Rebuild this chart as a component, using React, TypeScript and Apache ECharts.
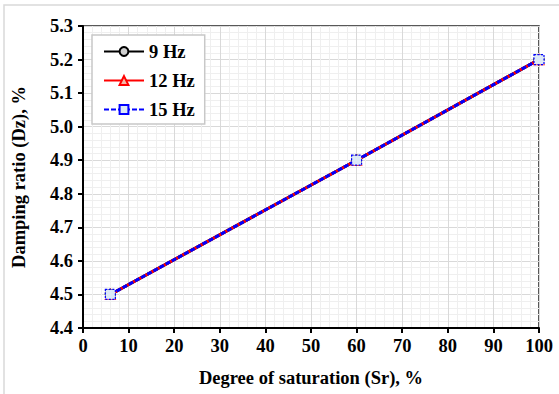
import React, { useEffect, useRef } from "react";
import * as echarts from "echarts";

const saturation = [6, 60, 100];
const damping9 = [4.5, 4.9, 5.2];
const damping12 = [4.5, 4.9, 5.2];
const damping15 = [4.5, 4.9, 5.2];
const seriesNames = ["9 Hz", "12 Hz", "15 Hz"];

const FONT = "'Liberation Serif', 'Times New Roman', serif";

export default function App() {
  const ref = useRef<HTMLDivElement>(null);
  useEffect(() => {
    if (!ref.current) return;
    const chart = echarts.init(ref.current, undefined, { renderer: "svg" });
    const pts = (ys: number[]) => saturation.map((x, i) => [x, ys[i]]);
    chart.setOption({
      animation: false,
      backgroundColor: "#ffffff",
      graphic: [
        {
          type: "rect",
          shape: { x: 4, y: 5, width: 570, height: 400 },
          style: { fill: "none", stroke: "#d9d9d9", lineWidth: 1.5 },
          z: -10,
        },
      ],
      grid: {
        left: 83,
        right: 20,
        top: 26,
        bottom: 66,
        show: true,
        borderColor: "#222",
        borderWidth: 1.5,
        backgroundColor: "transparent",
      },
      legend: {
        orient: "vertical",
        left: 92,
        top: 35,
        padding: [7, 10, 5, 11],
        itemWidth: 40,
        itemHeight: 11,
        itemGap: 10,
        backgroundColor: "#fff",
        borderColor: "#c8c8c8",
        borderWidth: 1.5,
        borderRadius: 0,
        textStyle: { fontFamily: FONT, fontWeight: "bold", fontSize: 18.5, color: "#000" },
        data: seriesNames,
      },
      xAxis: {
        type: "value",
        min: 0,
        max: 100,
        interval: 10,
        name: "Degree of saturation (Sr), %",
        nameLocation: "middle",
        nameGap: 40,
        nameTextStyle: { fontFamily: FONT, fontWeight: "bold", fontSize: 18.5, color: "#000" },
        axisLine: { show: true, onZero: false, lineStyle: { color: "#000", width: 2 } },
        axisTick: { show: true, inside: false, length: 5, lineStyle: { color: "#000", width: 2 } },
        axisLabel: { fontFamily: FONT, fontWeight: "bold", fontSize: 18.5, color: "#000", margin: 8 },
        splitLine: { show: true, lineStyle: { color: "#d9d9d9", width: 1 } },
        minorTick: { show: false, splitNumber: 5 },
        minorSplitLine: { show: true, lineStyle: { color: "#efefef", width: 1 } },
      },
      yAxis: {
        type: "value",
        min: 4.4,
        max: 5.3,
        interval: 0.1,
        name: "Damping ratio (Dz), %",
        nameLocation: "middle",
        nameGap: 55,
        nameTextStyle: { fontFamily: FONT, fontWeight: "bold", fontSize: 18.5, color: "#000" },
        axisLine: { show: true, onZero: false, lineStyle: { color: "#000", width: 2 } },
        axisTick: { show: true, inside: false, length: 5, lineStyle: { color: "#000", width: 2 } },
        axisLabel: {
          fontFamily: FONT,
          fontWeight: "bold",
          fontSize: 18.5,
          color: "#000",
          margin: 10,
          formatter: (v: number) => v.toFixed(1),
        },
        splitLine: { show: true, lineStyle: { color: "#d9d9d9", width: 1 } },
        minorTick: { show: false, splitNumber: 5 },
        minorSplitLine: { show: true, lineStyle: { color: "#efefef", width: 1 } },
      },
      series: [
        {
          name: seriesNames[0],
          type: "line",
          data: pts(damping9),
          symbol: "circle",
          symbolSize: 10,
          lineStyle: { color: "#000", width: 3 },
          itemStyle: { color: "#d0d0d0", borderColor: "#000", borderWidth: 1.2 },
          z: 2,
        },
        {
          name: seriesNames[1],
          type: "line",
          data: pts(damping12),
          symbol: "triangle",
          symbolSize: 10,
          lineStyle: { color: "#ff0000", width: 3 },
          itemStyle: { color: "#f4b8a8", borderColor: "#ff0000", borderWidth: 1.2 },
          z: 3,
        },
        {
          name: seriesNames[2],
          type: "line",
          data: pts(damping15),
          symbol: "rect",
          symbolSize: 10,
          lineStyle: { color: "#0000ff", width: 3, type: [5, 2] },
          itemStyle: { color: "#dce9f7", borderColor: "#0000ff", borderWidth: 1.2, borderType: [2, 1.5] },
          z: 4,
        },
      ],
    });
    return () => chart.dispose();
  }, []);
  return (
    <div
      ref={ref}
      style={{ position: "absolute", left: 0, top: 0, width: 559, height: 394 }}
    />
  );
}
